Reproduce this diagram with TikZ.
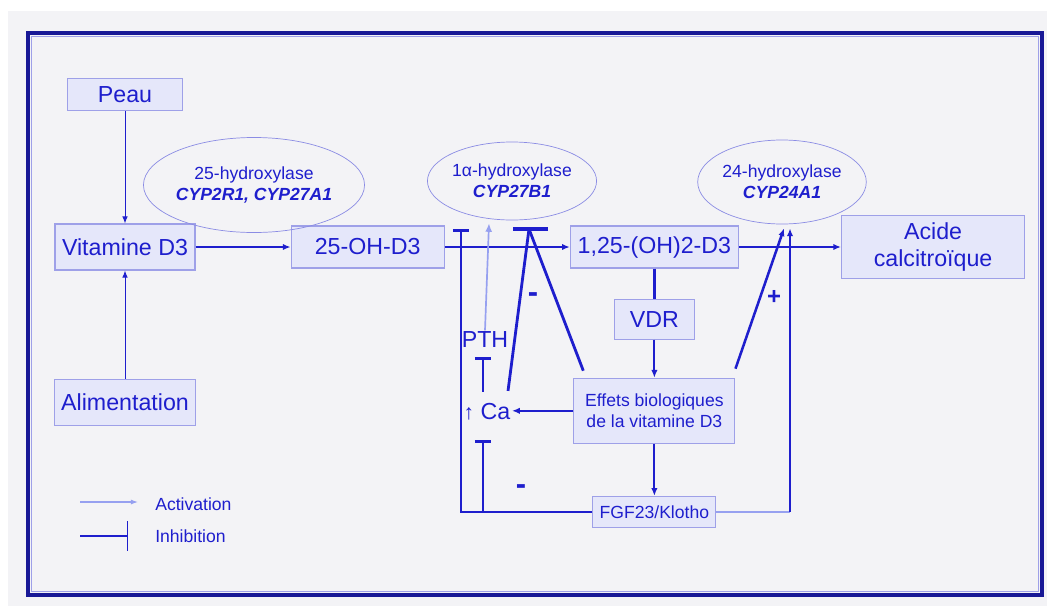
\documentclass[tikz,border=0pt]{standalone}
\usepackage{fontspec}
\setmainfont{Liberation Sans}
\usetikzlibrary{arrows.meta, positioning, shapes.geometric, calc}
\definecolor{vdBlue}{RGB}{30, 30, 205}
\definecolor{vdBoxFill}{RGB}{229, 231, 250}
\definecolor{vdBoxLine}{RGB}{158, 160, 232}
\definecolor{vdPale}{RGB}{150, 160, 240}
\definecolor{vdFrame}{RGB}{24, 24, 150}
\definecolor{vdBack}{RGB}{243, 243, 246}

\begin{document}
\begin{tikzpicture}[
    x=0.025cm, y=-0.025cm,
    box/.style={
        rectangle,
        draw=vdBoxLine,
        fill=vdBoxFill,
        line width=0.8pt,
        inner sep=0pt,
        align=center,
        text=vdBlue,
        font=\fontsize{16.5}{19}\selectfont
    },
    smallbox/.style={
        box,
        font=\fontsize{12.5}{15.5}\selectfont
    },
    enzyme/.style={
        ellipse,
        draw=vdBoxLine!85!vdBlue,
        line width=0.5pt,
        inner sep=0pt,
        align=center,
        text=vdBlue,
        font=\fontsize{12.5}{15}\selectfont
    },
    txt/.style={
        inner sep=1pt,
        text=vdBlue,
        font=\fontsize{16.5}{19}\selectfont
    },
    sign/.style={
        inner sep=0pt,
        text=vdBlue,
        font=\fontsize{17}{19}\selectfont\bfseries
    },
    legend/.style={
        inner sep=0pt,
        anchor=west,
        text=vdBlue,
        font=\fontsize{12.5}{15}\selectfont
    },
    feed/.style={
        -{Latex[length=5.5pt, width=4.5pt]},
        line width=1.4pt,
        draw=vdBlue
    },
    thinfeed/.style={
        -{Latex[length=5pt, width=4pt]},
        line width=0.7pt,
        draw=vdBlue
    },
    activ/.style={
        -{Latex[length=6pt, width=5pt]},
        line width=1.2pt,
        draw=vdPale
    },
    inhib/.style={
        -{Bar[width=11.5pt]},
        line width=2pt,
        draw=vdBlue
    },
    thickline/.style={
        line width=2pt,
        draw=vdBlue
    }
]

% Page and frame
\useasboundingbox (0,0) rectangle (1047,606);
\fill[white] (0,0) rectangle (1047,606);
\fill[vdBack] (8,11) rectangle (1047,606);
\draw[vdFrame, line width=2.2pt] (28,33) rectangle (1042,595);
\draw[vdBoxLine, line width=0.6pt] (31.5,36.5) rectangle (1038.5,591.5);

% Main chain
\node[box, minimum width=3.5cm, minimum height=1.15cm] (vitd) at (125,247) {Vitamine D3};
\node[box, minimum width=2.875cm, minimum height=0.8cm, above=2.8cm of vitd] (peau) {Peau};
\node[box, minimum width=3.525cm, minimum height=1.15cm, below=2.7cm of vitd] (alim) {Alimentation};
\node[box, minimum width=3.825cm, minimum height=1.05cm, right=2.375cm of vitd] (oh25) {25-OH-D3};
\node[box, minimum width=4.2cm, minimum height=1.05cm, right=3.125cm of oh25] (d125) {1,25-(OH)2-D3};
\node[box, minimum width=4.575cm, minimum height=1.575cm, right=2.55cm of d125] (acide) {Acide\\calcitroïque};

% Column below 1,25-(OH)2-D3
\node[box, minimum width=2cm, minimum height=1cm, below=0.75cm of d125] (vdr) {VDR};
\node[smallbox, minimum width=4.025cm, minimum height=1.625cm, below=0.95cm of vdr] (effets) {Effets biologiques\\de la vitamine D3};
\node[smallbox, minimum width=3.075cm, minimum height=0.775cm, below=1.3cm of effets] (fgf) {FGF23/Klotho};

% Enzymes
\node[enzyme, minimum width=4.425cm, minimum height=2.375cm] (e25) at (254,185) {25-hydroxylase\\\textbf{\textit{CYP2R1, CYP27A1}}};
\node[enzyme, minimum width=4cm, minimum height=1.95cm] (e1a) at (512,181) {1α-hydroxylase\\\textbf{\textit{CYP27B1}}};
\node[enzyme, minimum width=4.025cm, minimum height=2.1cm] (e24) at (782,182) {24-hydroxylase\\\textbf{\textit{CYP24A1}}};

% PTH and calcium
\node[txt] (pth) at (485,340) {PTH};
\node[txt] (ca) at (487,412) {{\fontsize{15}{17}\selectfont ↑} Ca};

% Main arrows
\draw[thinfeed] (peau) -- (vitd);
\draw[thinfeed] (alim) -- (vitd);
\draw[feed] (vitd) -- (oh25);
\draw[feed] (oh25.east) -- (oh25.east -| d125.west);
\draw[feed] (d125.east) -- (d125.east -| acide.west);
\draw[thickline] (d125) -- (vdr);
\draw[feed] (vdr) -- (effets);
\draw[feed] (effets) -- (fgf);
\draw[feed] (effets.west) -- (effets.west -| ca.east);

% Activation by PTH
\draw[activ] (pth.north) -- ([shift={(-23,3)}]e1a.south);

% Inhibitions
\coordinate (barL) at (461,229);
\coordinate (caLow) at (483,440);
\coordinate (pthLow) at (483,357);
\coordinate (apex) at (529,229);
\draw[inhib] (fgf.west) -| (barL);
\draw[inhib] (caLow |- fgf.west) -- (caLow);
\draw[inhib] ($(ca.north -| pthLow)+(0,-10)$) -- (pthLow);
\draw[thickline] ([shift={(-4,-11)}]ca.north east) -- (apex);
\draw[thickline] ([shift={(10,-7)}]effets.north west) -- (apex);
\draw[thickline, line width=2.4pt] ([shift={(-16,0)}]apex) -- ([shift={(19,0)}]apex);

% Feedback to 24-hydroxylase
\coordinate (fgfR) at (790,512);
\draw[feed, line width=1.8pt] ([shift={(0,-9)}]effets.north east) -- ([shift={(2,4)}]e24.south);
\draw[vdPale, line width=1.2pt] (fgf.east) -- (fgf.east -| fgfR);
\draw[feed, line width=2pt] (fgf.east -| fgfR) -- ([shift={(8,4)}]e24.south);

% Signs
\node[sign, font=\fontsize{22}{24}\selectfont\bfseries] (minusA) at (533,298) {-};
\node[sign, font=\fontsize{22}{24}\selectfont\bfseries] (minusB) at (521,490) {-};
\node[sign] (plusA) at (774,297) {+};

% Legend
\node[legend] (lgAct) at (155,504) {Activation};
\node[legend] (lgInh) at (155,536) {Inhibition};
\draw[vdPale, line width=0.8pt, -{Latex[length=5pt, width=3.5pt]}] ([shift={(-75,-2)}]lgAct.west) -- ([shift={(-17,-2)}]lgAct.west);
\draw[vdBlue, line width=1pt, -{Bar[width=21pt]}] ([shift={(-75,0)}]lgInh.west) -- ([shift={(-27,0)}]lgInh.west);

\end{tikzpicture}
\end{document}
